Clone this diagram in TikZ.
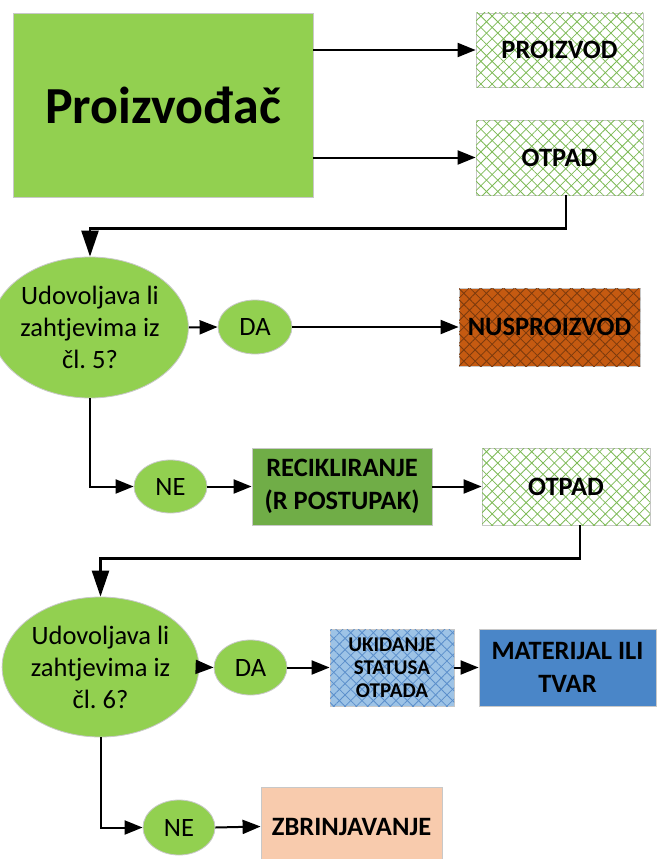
\documentclass[tikz,border=0pt]{standalone}
\usepackage{fontspec}
\setmainfont{Carlito}
\usetikzlibrary{shapes.geometric,arrows.meta,patterns.meta}
\definecolor{lgreen}{HTML}{92D050}
\definecolor{mgreen}{HTML}{70AD47}
\definecolor{hgreen}{HTML}{7DBA55}
\definecolor{orng}{HTML}{C55A11}
\definecolor{orngdk}{HTML}{7A3A0E}
\definecolor{lblue}{HTML}{9DC3E6}
\definecolor{lbluedk}{HTML}{5B8FCB}
\definecolor{mblue}{HTML}{4A86C8}
\definecolor{peach}{HTML}{F8CBAD}
\definecolor{bord}{HTML}{C8C8C8}
\tikzset{
  box/.style={draw=bord, line width=0.8pt, inner sep=0pt, align=center,
    font=\bfseries\fontsize{26.5}{33}\selectfont},
  hatch/.style 2 args={box, fill=#1,
    postaction={pattern={Lines[angle=45,distance=8pt,line width=0.8pt]},pattern color=#2},
    postaction={pattern={Lines[angle=-45,distance=8pt,line width=0.8pt]},pattern color=#2}},
  oval/.style={ellipse, draw=bord, line width=0.8pt, fill=lgreen, inner sep=0pt,
    align=center, font=\fontsize{26.5}{32}\selectfont},
  arr/.style={line width=2pt, -{Triangle[length=18pt,width=14pt]}},
  darr/.style={line width=2.4pt, -{Triangle[length=26pt,width=17pt]}}
}
\begin{document}
\begin{tikzpicture}[x=1pt,y=-1pt]
\clip (0,0) rectangle (657,859);
\fill[white] (0,0) rectangle (657,859);
% nodes
\node[box, fill=lgreen, minimum width=300, minimum height=184,
  font=\bfseries\fontsize{52}{60}\selectfont] (prod) at (163,105) {Proizvođač};
\node[hatch={white}{hgreen}, minimum width=167, minimum height=74] (proizvod) at (559.5,50) {PROIZVOD};
\node[hatch={white}{hgreen}, minimum width=167, minimum height=75] (otpad1) at (559.5,157.5) {OTPAD};
\node[oval, minimum width=164, minimum height=141] (q1) at (90,327.5) {Udovoljava li\\zahtjevima iz\\čl.\ 5?};
\node[oval, minimum width=74, minimum height=54] (da1) at (255,327) {DA};
\node[hatch={orng}{orngdk}, minimum width=181, minimum height=78] (nus) at (549.5,327) {NUSPROIZVOD};
\node[oval, minimum width=73, minimum height=53] (ne1) at (170.5,486.5) {NE};
\node[box, fill=mgreen, minimum width=180, minimum height=77] (rec) at (342,486.5) {RECIKLIRANJE\\(R POSTUPAK)};
\node[hatch={white}{hgreen}, minimum width=168, minimum height=77] (otpad2) at (566,486.5) {OTPAD};
\node[oval, minimum width=165, minimum height=140] (q2) at (100.5,667) {Udovoljava li\\zahtjevima iz\\čl.\ 6?};
\node[oval, minimum width=73, minimum height=55] (da2) at (250.5,667.5) {DA};
\node[hatch={lblue}{lbluedk}, minimum width=124, minimum height=77,
  font=\bfseries\fontsize{21}{23}\selectfont] (uk) at (392,667.5) {UKIDANJE\\STATUSA\\OTPADA};
\node[box, fill=mblue, minimum width=177, minimum height=77] (mat) at (567.5,667.5) {MATERIJAL ILI\\TVAR};
\node[oval, minimum width=72, minimum height=55] (ne2) at (179,827.5) {NE};
\node[box, fill=peach, minimum width=181, minimum height=79] (zb) at (351.5,826.5) {ZBRINJAVANJE};
% connectors
\draw[arr] (prod.east |- proizvod.west) -- (proizvod.west);
\draw[arr] (prod.east |- otpad1.west) -- (otpad1.west);
\draw[darr] ([xshift=6.5]otpad1.south) -- ++(0,33) -| (q1.north);
\draw[arr] (q1.east) -- (da1.west);
\draw[arr] (da1.east) -- (nus.west);
\draw[arr] (q1.south) |- (ne1.west);
\draw[arr] (ne1.east) -- (rec.west);
\draw[arr] (rec.east) -- (otpad2.west);
\draw[darr] ([xshift=14]otpad2.south) -- ++(0,33) -| (q2.north);
\draw[arr] (q2.east) -- (da2.west);
\draw[arr] (da2.east) -- (uk.west);
\draw[arr] (uk.east) -- (mat.west);
\draw[arr] (q2.south) |- (ne2.west);
\draw[arr] (ne2.east) -- (zb.west);
\end{tikzpicture}
\end{document}
